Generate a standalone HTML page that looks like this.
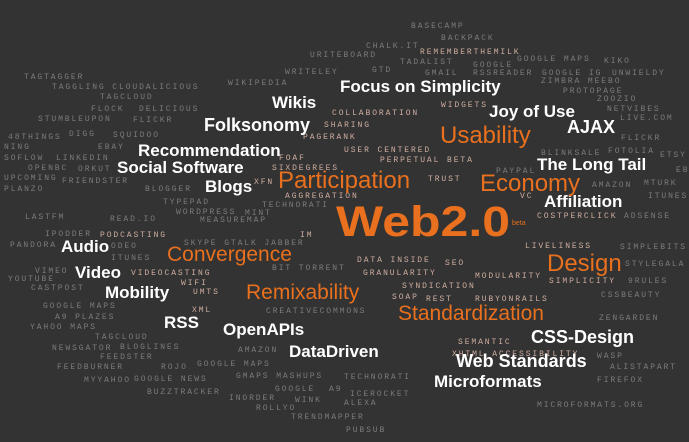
<!DOCTYPE html>
<html><head><meta charset="utf-8"><style>
html,body{margin:0;padding:0;background:#333;}
svg{display:block}
.s{font-family:"Liberation Mono",monospace;font-size:8px;letter-spacing:1.9px;fill:#7c7c7c}
.p{fill:#cfaea0}
.w{font-family:"Liberation Sans",sans-serif;font-weight:bold;fill:#fff}
.o{font-family:"Liberation Sans",sans-serif;fill:#e8701e}
</style></head><body>
<svg id="cloud" width="689" height="442" viewBox="0 0 689 442">
<rect width="689" height="442" fill="#333"/>
</svg>
<script>
// [text, x, baselineY, class, size]
const words = [
["BASECAMP",411,28,"s",0],["BACKPACK",441,40,"s",0],["CHALK.IT",366,48,"s",0],["REMEMBERTHEMILK",420,54,"s p",0],
["URITEBOARD",310,57,"s",0],["TADALIST",400,64,"s",0],["GOOGLE",473,67,"s",0],["RSSREADER",473,75,"s",0],
["GOOGLE MAPS",517,61,"s",0],["KIKO",604,63,"s",0],["GTD",372,72,"s",0],["GMAIL",425,75,"s",0],
["GOOGLE IG",542,75,"s",0],["UNWIELDY",612,75,"s",0],["ZIMBRA MEEBO",541,83,"s",0],["WRITELEY",285,74,"s",0],
["PROTOPAGE",563,93,"s",0],["ZOOZIO",597,101,"s",0],["WIKIPEDIA",228,85,"s",0],["TAGTAGGER",24,79,"s",0],
["TAGGLING CLOUDALICIOUS",52,89,"s",0],["TAGCLOUD",100,99,"s",0],["FLOCK",91,111,"s",0],["DELICIOUS",139,111,"s",0],
["STUMBLEUPON",38,121,"s",0],["FLICKR",133,122,"s",0],["WIDGETS",441,107,"s p",0],["NETVIBES",607,111,"s",0],
["LIVE.COM",620,120,"s",0],["COLLABORATION",332,115,"s p",0],["SHARING",324,127,"s p",0],["PAGERANK",303,139,"s p",0],
["FLICKR",621,140,"s",0],["48THINGS",8,139,"s",0],["DIGG",69,136,"s",0],["SQUIDOO",113,137,"s",0],["NING",4,149,"s",0],
["EBAY",98,149,"s",0],["USER CENTERED",344,152,"s p",0],["BLINKSALE",541,155,"s",0],["FOTOLIA",608,153,"s",0],
["ETSY",660,157,"s",0],["SOFLOW",4,160,"s",0],["LINKEDIN",56,160,"s",0],["FOAF",279,160,"s p",0],
["PERPETUAL BETA",380,162,"s p",0],["OPENBC",28,170,"s",0],["ORKUT",78,171,"s",0],["SIXDEGREES",272,170,"s p",0],
["UPCOMING",4,180,"s",0],["FRIENDSTER",62,183,"s",0],["TRUST",428,181,"s p",0],["PAYPAL",496,173,"s",0],
["EBAY",676,172,"s",0],["MTURK",644,185,"s",0],["AMAZON",592,187,"s",0],["PLANZO",4,191,"s",0],["BLOGGER",145,191,"s",0],
["XFN",254,184,"s p",0],["AGGREGATION",285,198,"s p",0],["VC",520,198,"s p",0],["ITUNES",648,198,"s",0],
["TYPEPAD",163,204,"s",0],["TECHNORATI",262,207,"s",0],["WORDPRESS",176,214,"s",0],["MINT",245,215,"s",0],
["LASTFM",25,219,"s",0],["READ.IO",110,221,"s",0],["MEASUREMAP",200,222,"s",0],["COSTPERCLICK",537,218,"s p",0],
["ADSENSE",624,218,"s",0],["IPODDER",45,236,"s",0],["PODCASTING",100,237,"s p",0],["IM",300,237,"s p",0],
["PANDORA",10,247,"s",0],["ODEO",111,248,"s",0],["SKYPE GTALK JABBER",184,245,"s",0],["ITUNES",111,260,"s",0],
["VIMEO",35,273,"s",0],["VIDEOCASTING",131,275,"s p",0],["BIT TORRENT",272,270,"s",0],["YOUTUBE",8,281,"s",0],
["CASTPOST",31,290,"s",0],["WIFI",181,285,"s p",0],["UMTS",193,294,"s p",0],["GOOGLE MAPS",43,308,"s",0],
["XML",192,312,"s p",0],["CREATIVECOMMONS",266,313,"s",0],["A9 PLAZES",55,319,"s",0],["YAHOO MAPS",30,329,"s",0],
["TAGCLOUD",95,339,"s",0],["NEWSGATOR",52,350,"s",0],["BLOGLINES",120,349,"s",0],["AMAZON",238,352,"s",0],
["FEEDSTER",100,359,"s",0],["FEEDBURNER",57,369,"s",0],["ROJO",161,369,"s",0],["GOOGLE MAPS",197,366,"s",0],
["MYYAHOO",84,382,"s",0],["GOOGLE NEWS",134,381,"s",0],["GMAPS MASHUPS",236,378,"s",0],["GOOGLE",275,391,"s",0],
["A9",329,391,"s",0],["BUZZTRACKER",147,394,"s",0],["INORDER",229,400,"s",0],["WINK",295,402,"s",0],
["ROLLYO",256,410,"s",0],["TRENDMAPPER",291,419,"s",0],["PUBSUB",346,432,"s",0],["ALEXA",344,405,"s",0],
["ICEROCKET",350,396,"s",0],["TECHNORATI",344,379,"s",0],["LIVELINESS",525,248,"s p",0],["SIMPLEBITS",620,249,"s",0],
["DATA INSIDE",357,262,"s p",0],["SEO",445,265,"s p",0],["STYLEGALA",625,266,"s",0],["GRANULARITY",363,275,"s p",0],
["MODULARITY",475,278,"s p",0],["SIMPLICITY",549,283,"s p",0],["9RULES",628,283,"s",0],["SYNDICATION",402,288,"s p",0],
["CSSBEAUTY",601,297,"s",0],["SOAP",392,299,"s p",0],["REST",426,301,"s p",0],["RUBYONRAILS",475,301,"s p",0],
["ZENGARDEN",599,320,"s",0],["SEMANTIC",458,344,"s p",0],["XHTML ACCESSIBILITY",452,356,"s p",0],["WASP",597,358,"s",0],
["ALISTAPART",610,369,"s",0],["FIREFOX",597,382,"s",0],["MICROFORMATS.ORG",537,407,"s",0],
["Focus on Simplicity",340,92,"w",17],["Wikis",272,108,"w",17],["Joy of Use",489,117,"w",17],["AJAX",567,133,"w",18],
["Folksonomy",204,131,"w",18],["Recommendation",138,156,"w",17],["Social Software",117,173,"w",17],
["The Long Tail",537,170,"w",17],["Blogs",205,192,"w",17],["Affiliation",544,207,"w",17],["Audio",61,252,"w",17],
["Video",75,278,"w",17],["Mobility",105,298,"w",17],["RSS",164,328,"w",17],["OpenAPIs",223,335,"w",17],
["DataDriven",289,357,"w",17],["CSS-Design",531,343,"w",18],["Web Standards",456,367,"w",18],["Microformats",434,387,"w",17],
["Usability",440,143,"o",24],["Participation",278,188,"o",24],["Economy",480,191,"o",24],["Convergence",167,261,"o",21],
["Remixability",246,299,"o",21],["Design",547,271,"o",24],["Standardization",398,320,"o",21]
];
const svg = document.getElementById('cloud');
const NS = 'http://www.w3.org/2000/svg';
for (const w of words) {
  const el = document.createElementNS(NS, 'text');
  el.setAttribute('x', w[1]);
  el.setAttribute('y', w[2]);
  el.setAttribute('class', w[3]);
  if (w[4]) el.setAttribute('font-size', w[4]);
  el.textContent = w[0];
  
  
  svg.appendChild(el);
}
const big = document.createElementNS(NS, 'text');
big.setAttribute('x', 336);
big.setAttribute('y', 236);
big.setAttribute('class', 'o');
big.setAttribute('font-size', 43);
big.setAttribute('font-weight', 'bold');
big.setAttribute('textLength', 174);
big.setAttribute('lengthAdjust', 'spacingAndGlyphs');
big.textContent = 'Web2.0';


svg.appendChild(big);
const beta = document.createElementNS(NS, 'text');
beta.setAttribute('x', 512);
beta.setAttribute('y', 225);
beta.setAttribute('class', 'o');
beta.setAttribute('font-size', 7);
beta.textContent = 'beta';


svg.appendChild(beta);
</script>
</body></html>
